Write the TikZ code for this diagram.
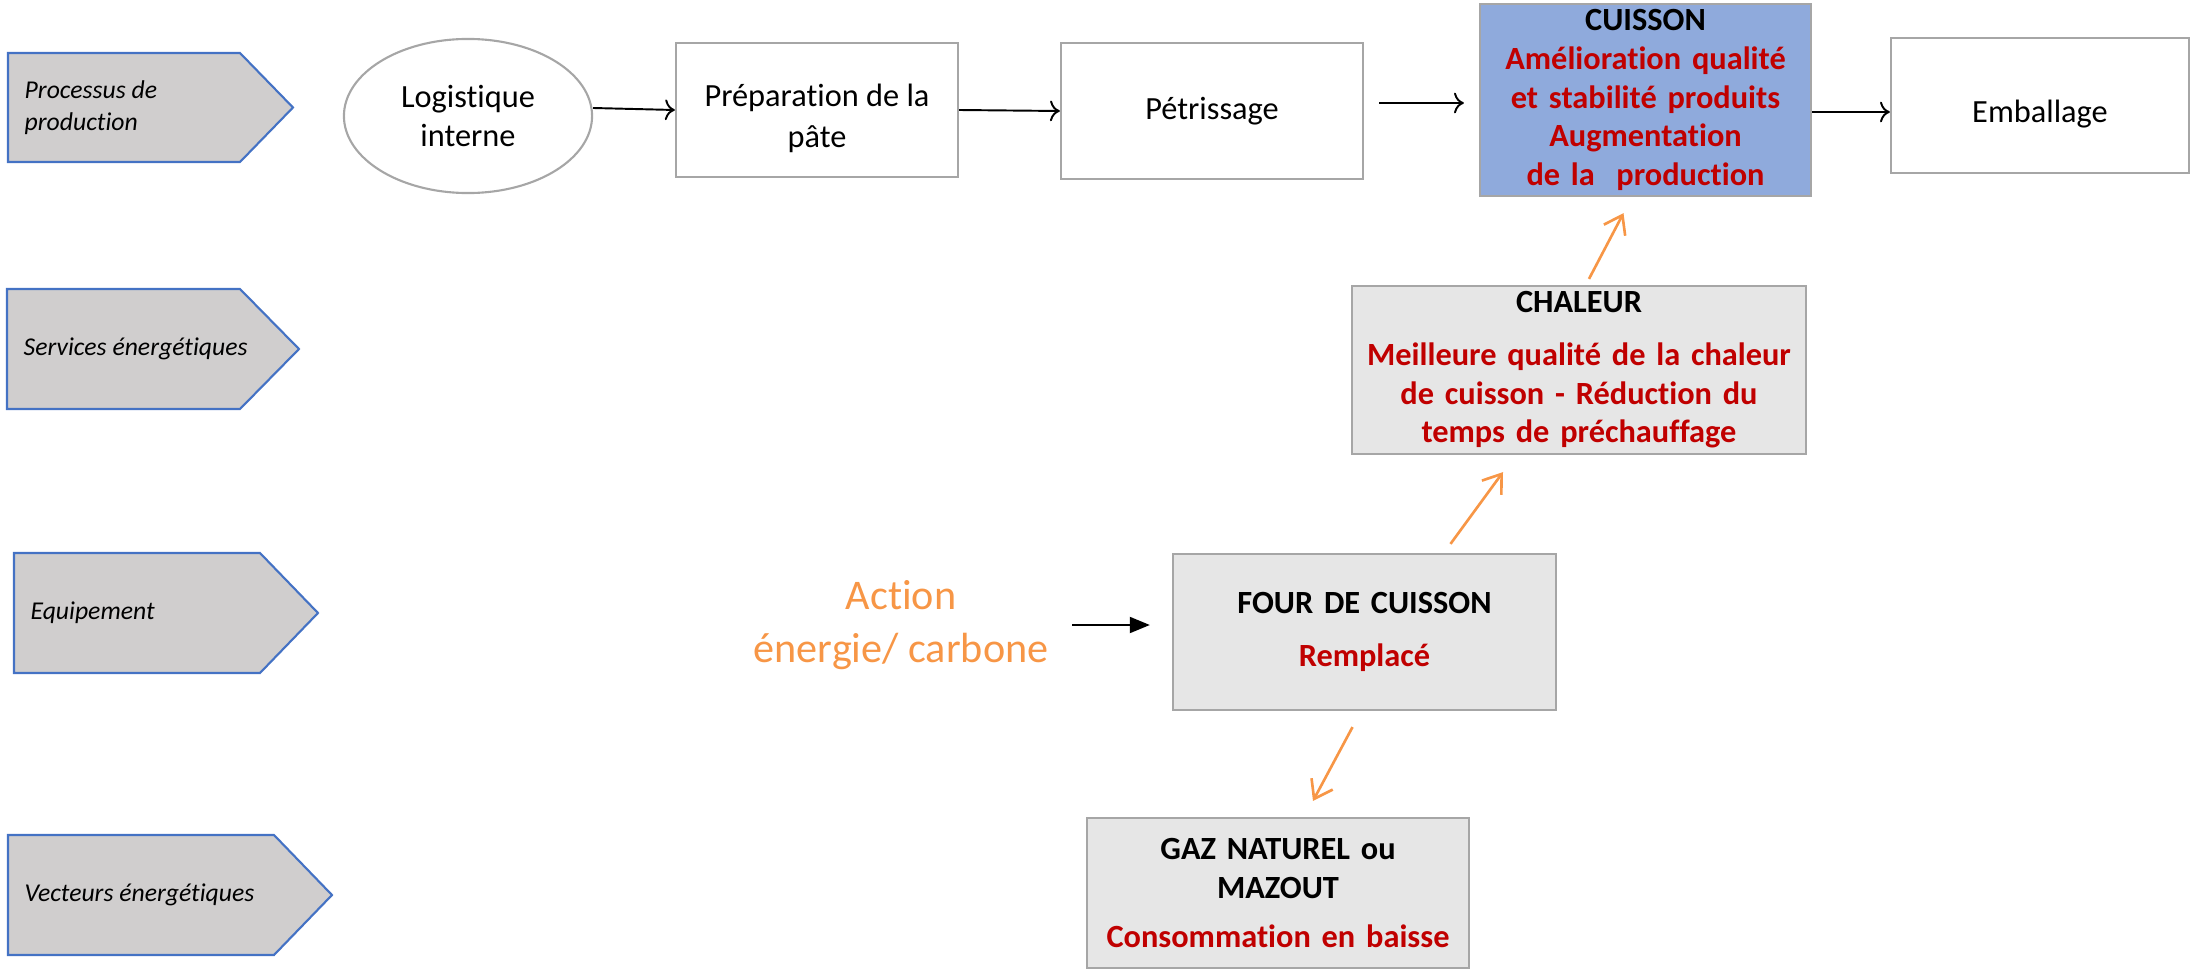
\documentclass[tikz,border=0pt]{standalone}
\usepackage{fontspec}
\setmainfont{Carlito}[Ligatures={NoCommon}]
\usetikzlibrary{shapes.geometric,arrows.meta,calc}
\definecolor{pentfill}{HTML}{D0CECE}
\definecolor{pentline}{HTML}{4472C4}
\definecolor{boxline}{HTML}{A6A6A6}
\definecolor{boxfill}{HTML}{E6E6E6}
\definecolor{cuisblue}{HTML}{8FAADC}
\definecolor{cred}{HTML}{C00000}
\definecolor{acorange}{HTML}{F79646}

\begin{document}
\begin{tikzpicture}[x=0.01cm,y=-0.01cm,
  stage/.style={draw=boxline,line width=0.6pt,align=center,inner sep=0pt,font=\fontsize{9.2}{11}\selectfont},
  lowtext/.style={align=center,inner sep=0pt,yshift=-0.085cm,font=\fontsize{9.2}{11.8}\selectfont},
  graybox/.style={stage,fill=boxfill,font=\bfseries\fontsize{9.2}{11}\selectfont},
  flow/.style={->,line width=0.55pt},
  effect/.style={-{Straight Barb[length=0.17cm,width=0.24cm]},draw=acorange,line width=0.75pt}]
\useasboundingbox (0,0) rectangle (2190,973);
\foreach \yt/\yb/\xl/\xr/\xp/\nm/\lab in
{53/162/8/240/293/proc/{Processus de\\production},
 289/409/7/240/299/serv/{Services énergétiques},
 553/673/14/260/318/equi/{Equipement},
 835/955/8/274/332/vect/{Vecteurs énergétiques}}
{
\draw[draw=pentline,fill=pentfill,line width=0.6pt] (\xl,\yt) -- (\xr,\yt) -- (\xp,{(\yt+\yb)/2}) -- (\xr,\yb) -- (\xl,\yb) -- cycle;
\node[anchor=west,align=left,inner sep=0pt,font=\itshape\fontsize{7.3}{9}\selectfont] (\nm) at (\xl+16,{(\yt+\yb)/2}) {\lab};
}
\node[stage,ellipse,minimum width=2.48cm,minimum height=1.54cm] (logist) at (468,116) {Logistique\\interne};
\node[stage,minimum width=2.82cm,minimum height=1.34cm,label={[lowtext]center:{Préparation de la\\pâte}}] (prep) at (817,110) {};
\node[stage,minimum width=3.02cm,minimum height=1.36cm] (petr) at (1212,111) {Pétrissage};
\node[stage,fill=cuisblue,font=\bfseries\fontsize{9.2}{11}\selectfont,text width=3.2cm,minimum width=3.31cm,minimum height=1.92cm] (cuisson) at (1645.5,100)
  {CUISSON\\\color{cred}Amélioration qualité\\et stabilité produits\\Augmentation\\de la~ production};
\node[stage,minimum width=2.98cm,minimum height=1.35cm,label={[lowtext]center:Emballage}] (emb) at (2040,105.5) {};
\node[graybox,text width=4.4cm,minimum width=4.54cm,minimum height=1.68cm] (chaleur) at (1579,370)
  {CHALEUR\\[4pt]\color{cred}Meilleure qualité de la chaleur\\de cuisson - Réduction du\\temps de préchauffage};
\node[graybox,text width=3.7cm,minimum width=3.83cm,minimum height=1.56cm] (four) at (1364.5,632)
  {FOUR DE CUISSON\\[4pt]\color{cred}Remplacé};
\node[graybox,text width=3.7cm,minimum width=3.82cm,minimum height=1.50cm] (gaz) at (1278,893)
  {GAZ NATUREL ou\\MAZOUT\\[3pt]\color{cred}Consommation en baisse};
\node[align=center,inner sep=0pt,text=acorange,font=\fontsize{12}{15}\selectfont] (action) at (901,625) {Action\\énergie/ carbone};

\draw[flow] ($(logist.east)+(0,-8)$) -- (prep.west);
\draw[flow] (prep.east) -- (petr.west);
\draw[flow] ($(petr.east)+(15,-8)$) -- ($(cuisson.west)+(-15,3)$);
\draw[flow] ($(cuisson.east)+(0,12)$) -- ($(emb.west)+(0,6.5)$);
\draw[-{Triangle[length=0.2cm,width=0.16cm]},line width=0.55pt,shorten <=0.23cm,shorten >=0.22cm] (action.east) -- (action.east -| four.west);
\draw[effect] ($(chaleur.north)+(10,-6)$) -- ($(cuisson.south)+(-22,16)$);
\draw[effect] ($(four.north)+(86,-9)$) -- ($(chaleur.south)+(-76,17)$);
\draw[effect] ($(four.south)+(-12,16)$) -- ($(gaz.north)+(35,-16)$);
\end{tikzpicture}
\end{document}
